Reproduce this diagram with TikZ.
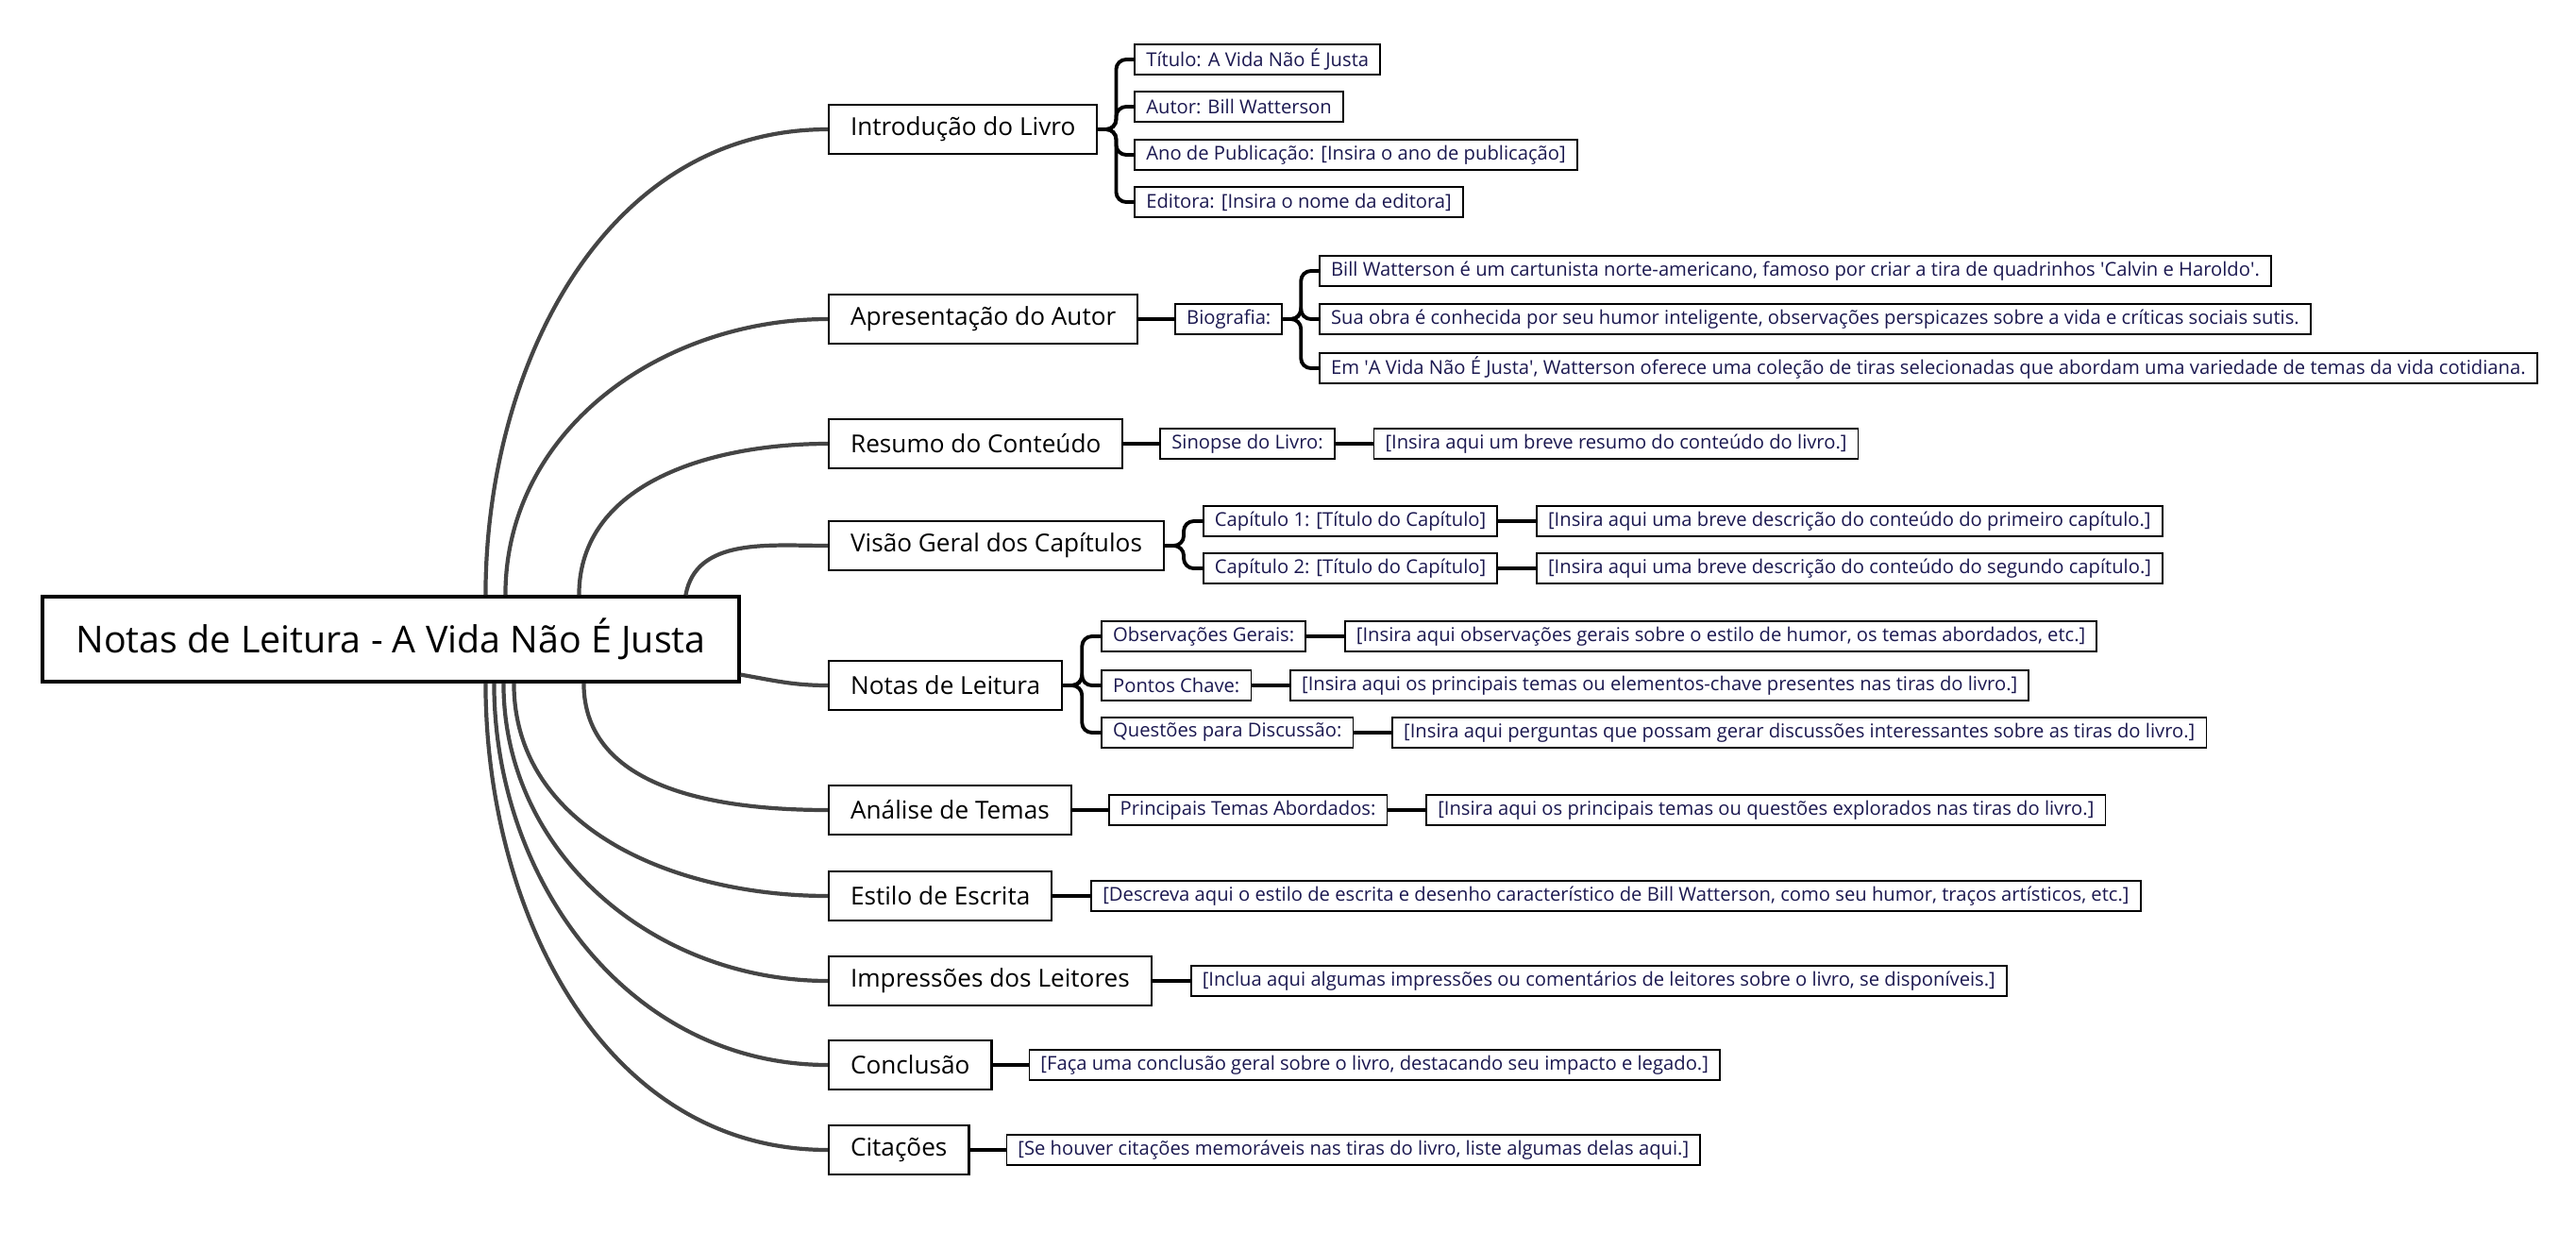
\documentclass[tikz,border=0pt]{standalone}
\usepackage{fontspec}
\setmainfont{Open Sans}
\definecolor{linkgray}{HTML}{454545}
\definecolor{leafink}{HTML}{1B1850}
\usetikzlibrary{positioning, calc}
\tikzset{
  rootbox/.style={
    draw=black, line width=0.9pt, fill=white,
    minimum width=7.38cm, minimum height=0.9cm,
    font=\fontsize{11.2}{13}\selectfont
  },
  topic/.style={
    draw=black, line width=0.6pt, fill=white, anchor=west,
    minimum height=0.52cm, inner xsep=0.23cm,
    font=\fontsize{7.45}{9}\selectfont
  },
  leaf/.style={
    draw=black, line width=0.5pt, fill=white,
    minimum height=0.32cm, inner xsep=0.12cm, inner ysep=0pt,
    text=leafink, font=\fontsize{5.75}{7}\selectfont
  },
  curve/.style={draw=linkgray, line width=1.2pt},
  tree/.style={draw=black, line width=1.1pt, rounded corners=3pt},
}

\begin{document}
\begin{tikzpicture}
  \useasboundingbox (0,0) rectangle (27.29,-13.05);

  % Root
  \node[rootbox] (root) at (4.14,-6.77) {Notas de Leitura - A Vida Não É Justa};

  % Topics
  \node[topic] (intro)   at (8.77,-1.37)  {Introdução do Livro};
  \node[topic] (autor)   at (8.77,-3.38)  {Apresentação do Autor};
  \node[topic] (resumo)  at (8.77,-4.70)  {Resumo do Conteúdo};
  \node[topic] (visao)   at (8.77,-5.78)  {Visão Geral dos Capítulos};
  \node[topic] (notas)   at (8.77,-7.26)  {Notas de Leitura};
  \node[topic] (analise) at (8.77,-8.58)  {Análise de Temas};
  \node[topic] (estilo)  at (8.77,-9.49)  {Estilo de Escrita};
  \node[topic] (impress) at (8.77,-10.39) {Impressões dos Leitores};
  \node[topic] (concl)   at (8.77,-11.28) {Conclusão};
  \node[topic] (citac)   at (8.77,-12.18) {Citações};

  % Root to topics
  \draw[curve] ([xshift=4.71cm]root.north west) to[out=90,in=180] (intro.west);
  \draw[curve] ([xshift=4.92cm]root.north west) to[out=90,in=180] (autor.west);
  \draw[curve] ([xshift=5.70cm]root.north west) to[out=90,in=180] (resumo.west);
  \draw[curve] ([xshift=6.83cm]root.north west) to[out=80,in=180] (visao.west);
  \draw[curve] ([yshift=0.09cm]root.south east) to[out=-10,in=180] (notas.west);
  \draw[curve] ([xshift=5.75cm]root.south west) to[out=-90,in=180] (analise.west);
  \draw[curve] ([xshift=5.01cm]root.south west) to[out=-90,in=180] (estilo.west);
  \draw[curve] ([xshift=4.90cm]root.south west) to[out=-90,in=180] (impress.west);
  \draw[curve] ([xshift=4.80cm]root.south west) to[out=-90,in=180] (concl.west);
  \draw[curve] ([xshift=4.71cm]root.south west) to[out=-90,in=180] (citac.west);

  % Introducao
  \node[leaf, right=0.38cm of intro, yshift=0.74cm]  (titulo) {Título: A Vida Não É Justa};
  \node[leaf, right=0.38cm of intro, yshift=0.24cm]  (autnome) {Autor: Bill Watterson};
  \node[leaf, right=0.38cm of intro, yshift=-0.27cm] (ano) {Ano de Publicação: [Insira o ano de publicação]};
  \node[leaf, right=0.38cm of intro, yshift=-0.77cm] (editora) {Editora: [Insira o nome da editora]};
  \foreach \kid in {titulo, autnome, ano, editora}
    \draw[tree] (intro.east) -- ++(0.19,0) |- (\kid.west);

  % Autor
  \node[leaf, right=0.38cm of autor] (bio) {Biografia:};
  \node[leaf, right=0.38cm of bio, yshift=0.51cm]  (bioa) {Bill Watterson é um cartunista norte-americano, famoso por criar a tira de quadrinhos \textquotesingle Calvin e Haroldo\textquotesingle.};
  \node[leaf, right=0.38cm of bio]                 (biob) {Sua obra é conhecida por seu humor inteligente, observações perspicazes sobre a vida e críticas sociais sutis.};
  \node[leaf, right=0.38cm of bio, yshift=-0.52cm] (bioc) {Em \textquotesingle A Vida Não É Justa\textquotesingle, Watterson oferece uma coleção de tiras selecionadas que abordam uma variedade de temas da vida cotidiana.};
  \draw[tree] (autor) -- (bio);
  \foreach \kid in {bioa, biob, bioc}
    \draw[tree] (bio.east) -- ++(0.19,0) |- (\kid.west);

  % Resumo
  \node[leaf, right=0.38cm of resumo] (sinopse) {Sinopse do Livro:};
  \node[leaf, right=0.4cm of sinopse] (sinopsetxt) {[Insira aqui um breve resumo do conteúdo do livro.]};
  \draw[tree] (resumo) -- (sinopse);
  \draw[tree] (sinopse) -- (sinopsetxt);

  % Capitulos
  \node[leaf, right=0.4cm of visao, yshift=0.26cm]  (capa) {Capítulo 1: [Título do Capítulo]};
  \node[leaf, right=0.4cm of visao, yshift=-0.24cm] (capb) {Capítulo 2: [Título do Capítulo]};
  \node[leaf, right=0.4cm of capa] (capatxt) {[Insira aqui uma breve descrição do conteúdo do primeiro capítulo.]};
  \node[leaf, right=0.4cm of capb] (capbtxt) {[Insira aqui uma breve descrição do conteúdo do segundo capítulo.]};
  \foreach \kid in {capa, capb}
    \draw[tree] (visao.east) -- ++(0.2,0) |- (\kid.west);
  \draw[tree] (capa) -- (capatxt);
  \draw[tree] (capb) -- (capbtxt);

  % Notas
  \node[leaf, right=0.4cm of notas, yshift=0.52cm]  (obs) {Observações Gerais:};
  \node[leaf, right=0.4cm of notas]                 (pontos) {Pontos Chave:};
  \node[leaf, right=0.4cm of notas, yshift=-0.50cm] (quest) {Questões para Discussão:};
  \node[leaf, right=0.4cm of obs]    (obstxt) {[Insira aqui observações gerais sobre o estilo de humor, os temas abordados, etc.]};
  \node[leaf, right=0.4cm of pontos] (pontostxt) {[Insira aqui os principais temas ou elementos-chave presentes nas tiras do livro.]};
  \node[leaf, right=0.4cm of quest]  (questtxt) {[Insira aqui perguntas que possam gerar discussões interessantes sobre as tiras do livro.]};
  \foreach \kid in {obs, pontos, quest}
    \draw[tree] (notas.east) -- ++(0.2,0) |- (\kid.west);
  \draw[tree] (obs) -- (obstxt);
  \draw[tree] (pontos) -- (pontostxt);
  \draw[tree] (quest) -- (questtxt);

  % Temas
  \node[leaf, right=0.38cm of analise] (princ) {Principais Temas Abordados:};
  \node[leaf, right=0.4cm of princ] (princtxt) {[Insira aqui os principais temas ou questões explorados nas tiras do livro.]};
  \draw[tree] (analise) -- (princ);
  \draw[tree] (princ) -- (princtxt);

  % Single notes
  \node[leaf, right=0.4cm of estilo] (estilotxt) {[Descreva aqui o estilo de escrita e desenho característico de Bill Watterson, como seu humor, traços artísticos, etc.]};
  \node[leaf, right=0.4cm of impress] (impresstxt) {[Inclua aqui algumas impressões ou comentários de leitores sobre o livro, se disponíveis.]};
  \node[leaf, right=0.38cm of concl] (concltxt) {[Faça uma conclusão geral sobre o livro, destacando seu impacto e legado.]};
  \node[leaf, right=0.38cm of citac] (citactxt) {[Se houver citações memoráveis nas tiras do livro, liste algumas delas aqui.]};
  \draw[tree] (estilo) -- (estilotxt);
  \draw[tree] (impress) -- (impresstxt);
  \draw[tree] (concl) -- (concltxt);
  \draw[tree] (citac) -- (citactxt);
\end{tikzpicture}
\end{document}
